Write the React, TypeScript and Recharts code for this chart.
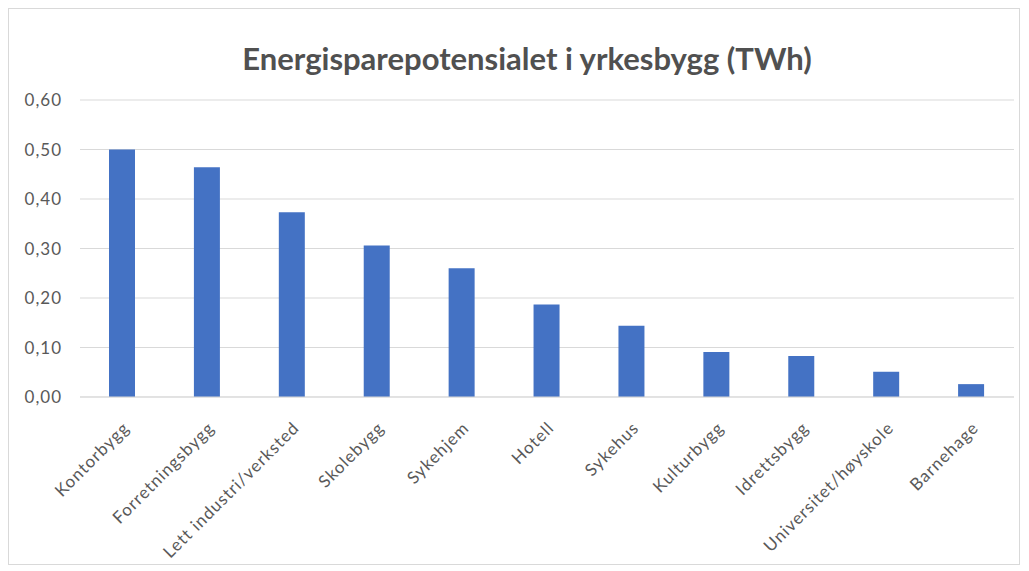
import { Bar, BarChart, CartesianGrid, XAxis, YAxis } from "recharts";

const buildingTypes = [
  "Kontorbygg",
  "Forretningsbygg",
  "Lett industri/verksted",
  "Skolebygg",
  "Sykehjem",
  "Hotell",
  "Sykehus",
  "Kulturbygg",
  "Idrettsbygg",
  "Universitet/høyskole",
  "Barnehage",
];

const savingsTWh = [0.5, 0.464, 0.373, 0.306, 0.26, 0.187, 0.144, 0.091, 0.083, 0.051, 0.026];

const yTicks = [0, 0.1, 0.2, 0.3, 0.4, 0.5, 0.6];

const data = buildingTypes.map((name, i) => ({ name, value: savingsTWh[i] }));

const FONT = "Lato, 'Open Sans', sans-serif";
const TEXT = "#595959";

function formatTick(v: number): string {
  return v.toFixed(2).replace(".", ",");
}

function AngledTick(props: any) {
  const { x, y, payload } = props;
  return (
    <g transform={`translate(${x + 5},${y + 21})`}>
      <text
        transform="rotate(-45)"
        textAnchor="end"
        dominantBaseline="middle"
        fill={TEXT}
        fontSize={17}
        letterSpacing={1}
        fontFamily={FONT}
      >
        {payload.value}
      </text>
    </g>
  );
}

export default function App() {
  return (
    <div
      style={{
        position: "relative",
        width: 1012,
        height: 557,
        border: "1px solid #d9d9d9",
        background: "#fff",
        boxSizing: "border-box",
      }}
    >
      <div
        style={{
          position: "absolute",
          top: 31,
          left: 26,
          right: 0,
          textAlign: "center",
          fontFamily: FONT,
          fontWeight: 700,
          fontSize: 31,
          color: "#505050",
          lineHeight: 1.2,
        }}
      >
        Energisparepotensialet i yrkesbygg (TWh)
      </div>
      <BarChart
        width={1010}
        height={555}
        data={data}
        margin={{ top: 91, right: 5, bottom: 0, left: 0 }}
        barCategoryGap={0}
      >
        <CartesianGrid vertical={false} stroke="#d9d9d9" />
        <XAxis
          dataKey="name"
          interval={0}
          tickLine={false}
          axisLine={{ stroke: "#d9d9d9" }}
          tick={<AngledTick />}
          height={167}
        />
        <YAxis
          domain={[0, 0.6]}
          ticks={yTicks}
          tickFormatter={formatTick}
          axisLine={false}
          tickLine={false}
          tickMargin={12}
          width={71}
          tick={{ fill: TEXT, fontSize: 17, fontFamily: FONT, letterSpacing: 1 }}
        />
        <Bar dataKey="value" fill="#4472c4" barSize={26} isAnimationActive={false} />
      </BarChart>
    </div>
  );
}
